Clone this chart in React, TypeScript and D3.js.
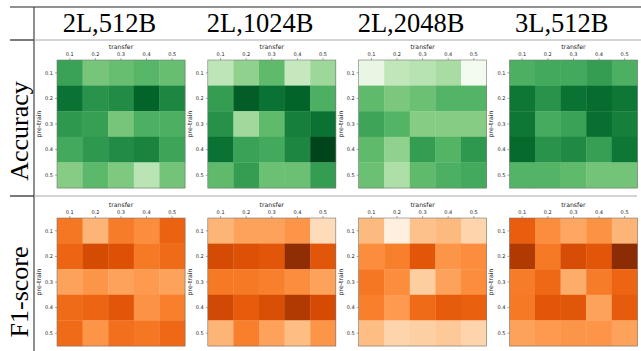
import React from "react";
import * as d3 from "d3";

const transferTicks = ["0.1", "0.2", "0.3", "0.4", "0.5"];
const pretrainTicks = ["0.1", "0.2", "0.3", "0.4", "0.5"];
const configs = ["2L,512B", "2L,1024B", "2L,2048B", "3L,512B"];
const metrics = ["Accuracy", "F1-score"];

// colormap intensity (0..1) per cell, rows = pre-train, cols = transfer
const acc2L512 = [
  [0.66, 0.49, 0.53, 0.57, 0.53],
  [0.85, 0.72, 0.75, 0.9, 0.77],
  [0.7, 0.67, 0.49, 0.6, 0.6],
  [0.63, 0.7, 0.75, 0.78, 0.65],
  [0.45, 0.56, 0.47, 0.29, 0.5],
];
const acc2L1024 = [
  [0.28, 0.42, 0.55, 0.25, 0.38],
  [0.68, 0.92, 0.85, 0.9, 0.6],
  [0.73, 0.37, 0.55, 0.8, 0.85],
  [0.85, 0.66, 0.63, 0.77, 1.0],
  [0.55, 0.68, 0.52, 0.52, 0.68],
];
const acc2L2048 = [
  [0.1, 0.27, 0.3, 0.35, 0.03],
  [0.55, 0.48, 0.52, 0.58, 0.58],
  [0.65, 0.58, 0.45, 0.45, 0.45],
  [0.55, 0.42, 0.68, 0.58, 0.7],
  [0.52, 0.33, 0.55, 0.6, 0.63],
];
const acc3L512 = [
  [0.6, 0.63, 0.63, 0.68, 0.6],
  [0.83, 0.72, 0.85, 0.87, 0.83],
  [0.83, 0.62, 0.66, 0.86, 0.8],
  [0.88, 0.72, 0.76, 0.67, 0.83],
  [0.58, 0.58, 0.55, 0.5, 0.5],
];
const f12L512 = [
  [0.58, 0.35, 0.56, 0.5, 0.65],
  [0.64, 0.75, 0.72, 0.57, 0.62],
  [0.42, 0.47, 0.42, 0.45, 0.42],
  [0.62, 0.64, 0.7, 0.48, 0.55],
  [0.62, 0.47, 0.6, 0.58, 0.63],
];
const f12L1024 = [
  [0.35, 0.42, 0.42, 0.47, 0.18],
  [0.75, 0.72, 0.7, 0.95, 0.7],
  [0.57, 0.57, 0.55, 0.5, 0.42],
  [0.76, 0.68, 0.73, 0.85, 0.75],
  [0.35, 0.55, 0.42, 0.32, 0.47],
];
const f12L2048 = [
  [0.33, 0.05, 0.3, 0.33, 0.22],
  [0.5, 0.55, 0.7, 0.47, 0.5],
  [0.58, 0.5, 0.25, 0.42, 0.5],
  [0.55, 0.45, 0.62, 0.68, 0.66],
  [0.32, 0.22, 0.24, 0.27, 0.22],
];
const f13L512 = [
  [0.67, 0.5, 0.4, 0.48, 0.35],
  [0.85, 0.57, 0.74, 0.7, 0.96],
  [0.56, 0.63, 0.38, 0.56, 0.64],
  [0.57, 0.7, 0.7, 0.42, 0.68],
  [0.42, 0.45, 0.47, 0.47, 0.42],
];

const accuracyMaps = [acc2L512, acc2L1024, acc2L2048, acc3L512];
const f1Maps = [f12L512, f12L1024, f12L2048, f13L512];

const W = 641;
const H = 351;

function Heatmap({ data, left, top, size, interp }) {
  const x = d3.scaleBand().domain(transferTicks).range([left, left + size]);
  const y = d3.scaleBand().domain(pretrainTicks).range([top, top + size]);
  const color = d3.scaleSequential(interp).domain([0, 1]);
  return (
    <g>
      <text x={left + size / 2} y={top - 11} fontSize={6.2} textAnchor="middle" fill="#222" fontFamily="DejaVu Sans">transfer</text>
      {data.map((row, ri) =>
        row.map((v, ci) => (
          <rect
            key={`${ri}-${ci}`}
            x={x(transferTicks[ci])}
            y={y(pretrainTicks[ri])}
            width={x.bandwidth() + 0.3}
            height={y.bandwidth() + 0.3}
            fill={color(v)}
          />
        ))
      )}
      <rect x={left} y={top} width={size} height={size} fill="none" stroke="#777" strokeWidth={0.6} />
      {transferTicks.map((t) => {
        const cx = x(t) + x.bandwidth() / 2;
        return (
          <g key={"xt" + t}>
            <line x1={cx} x2={cx} y1={top} y2={top - 2} stroke="#555" strokeWidth={0.5} />
            <text x={cx} y={top - 4} fontSize={5} textAnchor="middle" fill="#222" fontFamily="DejaVu Sans">{t}</text>
          </g>
        );
      })}
      {pretrainTicks.map((t) => {
        const cy = y(t) + y.bandwidth() / 2;
        return (
          <g key={"yt" + t}>
            <line x1={left} x2={left - 2} y1={cy} y2={cy} stroke="#555" strokeWidth={0.5} />
            <text x={left - 4} y={cy + 1.8} fontSize={5} textAnchor="end" fill="#222" fontFamily="DejaVu Sans">{t}</text>
          </g>
        );
      })}
      <text
        transform={`translate(${left - 16},${top + size / 2}) rotate(-90)`}
        fontSize={6.2}
        textAnchor="middle"
        fill="#222"
        fontFamily="DejaVu Sans"
      >
        pre-train
      </text>
    </g>
  );
}

export default function App() {
  const colStart = 34;
  const colW = 150.8;
  const size = 128;
  const tops = [60, 218];
  const rowMaps = [accuracyMaps, f1Maps];
  const interps = [d3.interpolateGreens, d3.interpolateOranges];
  const rowLabelY = [131, 292];
  return (
    <svg width={W} height={H} style={{ position: "absolute", left: 0, top: 0, background: "#fff" }}>
      <rect x={0} y={0} width={W} height={H} fill="#fff" />
      {/* table lines */}
      <line x1={10} x2={W} y1={7} y2={7} stroke="#222" strokeWidth={1.2} />
      <line x1={34} x2={34} y1={7} y2={H} stroke="#444" strokeWidth={1.2} />
      <line x1={10} x2={34} y1={40} y2={40} stroke="#222" strokeWidth={1.2} />
      <line x1={34} x2={W} y1={40} y2={40} stroke="#aaa" strokeWidth={1} />
      <line x1={10} x2={34} y1={196} y2={196} stroke="#222" strokeWidth={1.2} />
      <line x1={34} x2={637} y1={196} y2={196} stroke="#aaa" strokeWidth={1} />
      {configs.map((c, i) => (
        <text
          key={c}
          x={colStart + colW * i + colW / 2}
          y={32}
          fontSize={26.5}
          textAnchor="middle"
          fill="#000"
          fontFamily="Liberation Serif"
        >
          {c}
        </text>
      ))}
      {metrics.map((m, r) => (
        <text
          key={m}
          transform={`translate(28,${rowLabelY[r]}) rotate(-90)`}
          fontSize={26}
          textAnchor="middle"
          fill="#000"
          fontFamily="Liberation Serif"
        >
          {m}
        </text>
      ))}
      {rowMaps.map((maps, r) =>
        maps.map((data, c) => (
          <Heatmap
            key={`${r}-${c}`}
            data={data}
            left={colStart + 23 + colW * c}
            top={tops[r]}
            size={size}
            interp={interps[r]}
          />
        ))
      )}
    </svg>
  );
}
